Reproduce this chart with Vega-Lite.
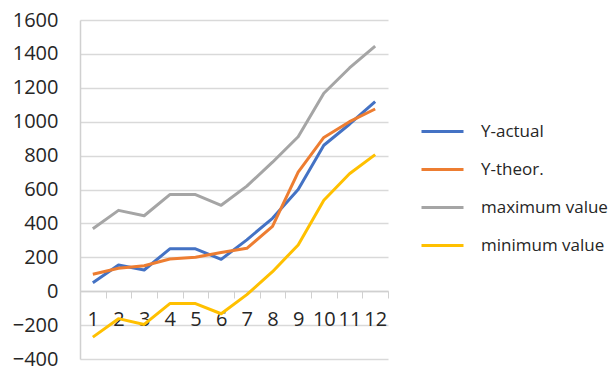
{
  "$schema": "https://vega.github.io/schema/vega-lite/v6.json",
  "width": 308,
  "height": 339,
  "autosize": {"type": "none"},
  "padding": {"left": 80, "top": 20, "right": 221, "bottom": 7},
  "background": "white",
  "config": {
    "view": {"stroke": null},
    "font": "Open Sans",
    "axis": {"labelFont": "Open Sans", "labelColor": "#262626"},
    "legend": {"labelFont": "Open Sans", "labelColor": "#262626"}
  },
  "data": {
    "values": [
      {"n": 1, "series": "Y-actual", "value": 50},
      {"n": 2, "series": "Y-actual", "value": 155},
      {"n": 3, "series": "Y-actual", "value": 125},
      {"n": 4, "series": "Y-actual", "value": 250},
      {"n": 5, "series": "Y-actual", "value": 250},
      {"n": 6, "series": "Y-actual", "value": 188},
      {"n": 7, "series": "Y-actual", "value": 303},
      {"n": 8, "series": "Y-actual", "value": 430},
      {"n": 9, "series": "Y-actual", "value": 600},
      {"n": 10, "series": "Y-actual", "value": 861},
      {"n": 11, "series": "Y-actual", "value": 985},
      {"n": 12, "series": "Y-actual", "value": 1119},
      {"n": 1, "series": "Y-theor.", "value": 100},
      {"n": 2, "series": "Y-theor.", "value": 135},
      {"n": 3, "series": "Y-theor.", "value": 150},
      {"n": 4, "series": "Y-theor.", "value": 190},
      {"n": 5, "series": "Y-theor.", "value": 200},
      {"n": 6, "series": "Y-theor.", "value": 228},
      {"n": 7, "series": "Y-theor.", "value": 253},
      {"n": 8, "series": "Y-theor.", "value": 382},
      {"n": 9, "series": "Y-theor.", "value": 703},
      {"n": 10, "series": "Y-theor.", "value": 907},
      {"n": 11, "series": "Y-theor.", "value": 1000},
      {"n": 12, "series": "Y-theor.", "value": 1075},
      {"n": 1, "series": "maximum value", "value": 368},
      {"n": 2, "series": "maximum value", "value": 477},
      {"n": 3, "series": "maximum value", "value": 445},
      {"n": 4, "series": "maximum value", "value": 570},
      {"n": 5, "series": "maximum value", "value": 570},
      {"n": 6, "series": "maximum value", "value": 507},
      {"n": 7, "series": "maximum value", "value": 620},
      {"n": 8, "series": "maximum value", "value": 761},
      {"n": 9, "series": "maximum value", "value": 911},
      {"n": 10, "series": "maximum value", "value": 1168},
      {"n": 11, "series": "maximum value", "value": 1317},
      {"n": 12, "series": "maximum value", "value": 1446},
      {"n": 1, "series": "minimum value", "value": -271},
      {"n": 2, "series": "minimum value", "value": -162},
      {"n": 3, "series": "minimum value", "value": -196},
      {"n": 4, "series": "minimum value", "value": -73},
      {"n": 5, "series": "minimum value", "value": -73},
      {"n": 6, "series": "minimum value", "value": -133},
      {"n": 7, "series": "minimum value", "value": -20},
      {"n": 8, "series": "minimum value", "value": 115},
      {"n": 9, "series": "minimum value", "value": 273},
      {"n": 10, "series": "minimum value", "value": 537},
      {"n": 11, "series": "minimum value", "value": 693},
      {"n": 12, "series": "minimum value", "value": 806}
    ]
  },
  "mark": {"type": "line", "strokeWidth": 3, "strokeJoin": "round"},
  "encoding": {
    "x": {
      "field": "n",
      "type": "ordinal",
      "bandPosition": 0.5,
      "scale": {"type": "band", "paddingInner": 0, "paddingOuter": 0},
      "axis": {
        "title": null,
        "orient": "bottom",
        "offset": -68,
        "labelAngle": 0,
        "labelFontSize": 20,
        "labelPadding": 11,
        "tickBand": "extent",
        "tickSize": 7,
        "tickColor": "#d0d0d0",
        "domainColor": "#d0d0d0",
        "domainWidth": 1.5,
        "grid": false
      }
    },
    "y": {
      "field": "value",
      "type": "quantitative",
      "scale": {"domain": [-400, 1600], "nice": false},
      "axis": {
        "title": null,
        "values": [-400, -200, 0, 200, 400, 600, 800, 1000, 1200, 1400, 1600],
        "format": "d",
        "labelFontSize": 20,
        "labelPadding": 22,
        "ticks": false,
        "domain": true,
        "domainColor": "#d0d0d0",
        "domainWidth": 1.5,
        "grid": true,
        "gridColor": "#d9d9d9",
        "gridWidth": 1.5
      }
    },
    "color": {
      "field": "series",
      "type": "nominal",
      "scale": {
        "domain": ["Y-actual", "Y-theor.", "maximum value", "minimum value"],
        "range": ["#4472C4", "#ED7D31", "#A5A5A5", "#FFC000"]
      },
      "legend": {
        "title": null,
        "orient": "none",
        "legendX": 340,
        "legendY": 89,
        "padding": 0,
        "symbolType": "stroke",
        "symbolSize": 1764,
        "symbolStrokeWidth": 3,
        "labelFontSize": 17,
        "labelOffset": 16,
        "rowPadding": 7,
        "labelLimit": 200
      }
    }
  }
}
